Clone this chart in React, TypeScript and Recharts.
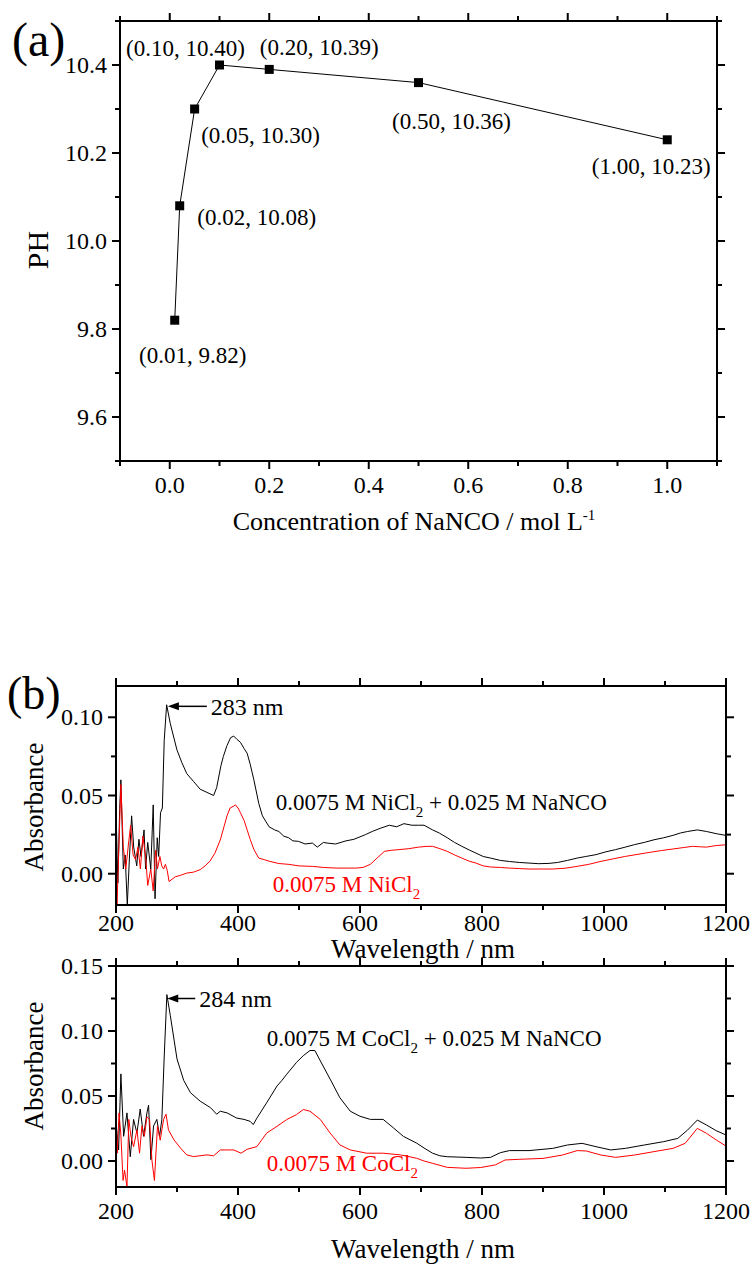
import { LineChart, Line, XAxis, YAxis, LabelList, ReferenceDot } from "recharts"

const FONT = '"Liberation Serif", "Times New Roman", serif'

// (a) pH vs NaNCO concentration
const concentration = [0.01, 0.02, 0.05, 0.1, 0.2, 0.5, 1.0]
const phValues = [9.82, 10.08, 10.3, 10.4, 10.39, 10.36, 10.23]

const concMajor = [0, 0.2, 0.4, 0.6, 0.8, 1.0]
const concMinor = [-0.1, 0.1, 0.3, 0.5, 0.7, 0.9, 1.1]
const phMajor = [9.6, 9.8, 10.0, 10.2, 10.4]
const phMinor = [9.5, 9.7, 9.9, 10.1, 10.3, 10.5]

// (b) wavelength axis
const wlMajor = [200, 400, 600, 800, 1000, 1200]
const wlMinor = [300, 500, 700, 900, 1100]
const absMajorNi = [0, 0.05, 0.1]
const absMinorNi = [0.025, 0.075]
const absMajorCo = [0, 0.05, 0.1, 0.15]
const absMinorCo = [0.025, 0.075, 0.125]

// [wavelength nm, absorbance]
const niMix: [number, number][] = [
  [200, 0.041], [203, -0.006], [206, 0.041], [208, 0.06], [212, 0.003], [215, 0.012], [218.5, -0.02],
  [222, 0.01], [225.6, 0.037], [229, 0.017], [234, 0.005], [237.6, 0.022], [241, 0.011], [246, 0.028],
  [248.5, 0.003], [252, 0.02], [257, 0.003], [261, 0.044], [264, -0.016], [267.6, 0.023], [270, 0.011],
  [273, 0.039], [276, 0.042], [279, 0.085], [283, 0.108], [289, 0.096], [300, 0.079], [308, 0.071],
  [316, 0.064], [327, 0.059], [338, 0.054], [349, 0.052], [360, 0.05], [365, 0.055], [372, 0.069],
  [376, 0.075], [382, 0.082], [388, 0.087], [393, 0.088], [398, 0.086], [404, 0.084], [410, 0.08],
  [415, 0.077], [420, 0.07], [426, 0.06], [434, 0.045], [440, 0.037], [451, 0.03], [460, 0.028],
  [467, 0.027], [475, 0.024], [483, 0.023], [490, 0.021], [499, 0.0207], [510, 0.019], [522, 0.0196],
  [530, 0.017], [540, 0.02], [546, 0.0196], [560, 0.019], [577, 0.021], [590, 0.022], [609, 0.025],
  [620, 0.027], [633, 0.029], [648, 0.031], [660, 0.03], [672, 0.032], [685, 0.031], [696, 0.031],
  [705, 0.031], [719, 0.028], [730, 0.026], [743, 0.023], [755, 0.02], [767, 0.0175], [780, 0.015],
  [790, 0.0132], [802, 0.011], [814, 0.01], [830, 0.0085], [845, 0.0078], [861, 0.0072], [877, 0.0068],
  [893, 0.0064], [910, 0.0066], [924, 0.0072], [940, 0.0085], [956, 0.01], [970, 0.011], [987, 0.0122],
  [1003, 0.014], [1019, 0.0154], [1035, 0.017], [1050, 0.0186], [1066, 0.02], [1082, 0.0217],
  [1098, 0.023], [1113, 0.0245], [1125, 0.026], [1137, 0.027], [1153, 0.028], [1168, 0.027],
  [1184, 0.0256], [1200, 0.0245],
]

const niOnly: [number, number][] = [
  [200, 0.024], [201.6, -0.02], [205, 0.02], [208, 0.057], [212, 0.017], [216, 0.003], [221, 0.021],
  [224, 0.031], [228, 0.012], [232, 0.009], [236, 0.017], [240, 0.003], [244, 0.024], [248.5, 0.011],
  [252, -0.0075], [257, 0.003], [261, -0.011], [265, 0.015], [268, 0.003], [272, 0.011], [275, 0.005],
  [278, 0.003], [281, 0.006], [284, 0.002], [287, -0.005], [297, -0.002], [306, -0.001], [316, 0.0004],
  [327, 0.001], [338, 0.0026], [346, 0.005], [354, 0.008], [362, 0.013], [371, 0.0216], [377, 0.03],
  [382, 0.037], [387, 0.042], [392, 0.043], [396, 0.044], [400, 0.042], [404, 0.039], [410, 0.034],
  [415, 0.028], [420, 0.022], [426, 0.0155], [434, 0.01], [443, 0.009], [451, 0.008], [467, 0.0065],
  [483, 0.006], [500, 0.005], [522, 0.0047], [540, 0.004], [562, 0.0036], [580, 0.0036], [593, 0.0036],
  [605, 0.004], [617, 0.006], [628, 0.01], [640, 0.0143], [652, 0.015], [664, 0.0154], [680, 0.016],
  [696, 0.017], [710, 0.0175], [719, 0.0175], [731, 0.016], [743, 0.0143], [755, 0.012], [767, 0.01],
  [779, 0.008], [790, 0.0068], [802, 0.005], [814, 0.0043], [830, 0.004], [845, 0.0036], [861, 0.0033],
  [877, 0.003], [900, 0.003], [916, 0.003], [936, 0.0035], [956, 0.0047], [975, 0.006], [995, 0.0079],
  [1015, 0.0095], [1034, 0.011], [1054, 0.0123], [1074, 0.0136], [1094, 0.0148], [1113, 0.0158],
  [1130, 0.0167], [1145, 0.0175], [1158, 0.0172], [1168, 0.017], [1184, 0.018], [1200, 0.0185],
]

const coMix: [number, number][] = [
  [200, 0.029], [204.3, 0.0085], [208, 0.067], [212.5, 0.019], [218, 0.037], [223.4, 0.0033],
  [228.8, 0.032], [234.3, 0.0215], [239.7, 0.04], [245.2, 0.019], [250.7, 0.037], [253.4, 0.043],
  [257.2, 0.001], [261.6, 0.027], [267, 0.032], [271.4, 0.019], [275.2, 0.032], [279, 0.08],
  [283.4, 0.128], [289, 0.112], [300, 0.0785], [311, 0.062], [322, 0.0526], [338, 0.046], [355, 0.041],
  [365, 0.036], [371, 0.0383], [382, 0.037], [398, 0.033], [410, 0.032], [420, 0.0305], [425, 0.028],
  [431, 0.033], [447, 0.0448], [464, 0.0577], [472, 0.062], [480, 0.0668], [496, 0.0759], [507, 0.081],
  [518, 0.085], [526, 0.085], [535, 0.077], [551, 0.063], [567, 0.0487], [584, 0.0383], [600, 0.0344],
  [617, 0.032], [638, 0.032], [655, 0.0254], [671, 0.019], [693, 0.0137], [705, 0.01], [719, 0.006],
  [731, 0.004], [743, 0.0033], [774, 0.0028], [798, 0.0023], [814, 0.0028], [830, 0.0064], [845, 0.008],
  [877, 0.008], [916, 0.0097], [940, 0.0123], [964, 0.0136], [987, 0.011], [1011, 0.0085],
  [1035, 0.0097], [1066, 0.0123], [1098, 0.0149], [1121, 0.0174], [1137, 0.0238], [1153, 0.0315],
  [1168, 0.0277], [1184, 0.0233], [1200, 0.02],
]

const coOnly: [number, number][] = [
  [200, 0.027], [202, 0.006], [205, 0.037], [208, 0.02], [211.6, -0.015], [214, -0.007], [218, -0.02],
  [221, 0.032], [224.5, 0.019], [228.8, 0.011], [234.3, 0.024], [238.6, 0.006], [242.5, 0.027],
  [246.5, 0.019], [250.7, 0.034], [255, 0.032], [258.8, 0.001], [263, -0.015], [268, 0.027],
  [272.5, 0.016], [278, 0.032], [282, 0.036], [286, 0.024], [295, 0.0163], [306, 0.0098], [316, 0.0047],
  [327, 0.0034], [349, 0.0047], [360, 0.004], [371, 0.0085], [393, 0.0085], [405, 0.006], [415, 0.009],
  [431, 0.0111], [447, 0.0215], [464, 0.0267], [480, 0.0319], [496, 0.0357], [507, 0.0396],
  [518, 0.0383], [535, 0.0319], [551, 0.0215], [567, 0.0124], [584, 0.0085], [611, 0.006], [638, 0.006],
  [666, 0.0047], [693, 0.0021], [705, 0], [719, -0.0018], [743, -0.0049], [774, -0.0056], [798, -0.005],
  [822, -0.003], [838, 0.0008], [861, 0.0013], [900, 0.002], [932, 0.0046], [956, 0.008], [971, 0.0077],
  [995, 0.0046], [1019, 0.0028], [1050, 0.0046], [1082, 0.0072], [1113, 0.0097], [1133, 0.0136],
  [1153, 0.0251], [1168, 0.0213], [1184, 0.0162], [1200, 0.0115],
]

const phData = concentration.map((c, i) => ({ conc: c, ph: phValues[i] }))
const toRows = (pts: [number, number][]) => pts.map(([wl, a]) => ({ wl, a }))

// label placement around each pH point (dx, dy from the marker)
const pointLabelOffsets = [
  [18, 35], [77, 12], [66, 26], [-34, -17], [50, -22], [33, 39], [-16, 27],
]

const axisLineStyle = { stroke: "#000", strokeWidth: 2 }
const sortTicks = (a: number[], b: number[]) => [...a, ...b].sort((p, q) => p - q)
const isMajor = (list: number[], v: number) => list.some((m) => Math.abs(m - v) < 1e-6)

type Side = "bottom" | "top" | "left" | "right"

function makeTick(side: Side, major: number[], fmt: ((v: number) => string) | null, gap = 0) {
  return (props: any) => {
    const { x, y, payload } = props
    const v = payload.value
    const big = isMajor(major, v)
    const len = big ? 8 : 5
    let x2 = x
    let y2 = y
    if (side === "bottom") y2 = y + len
    if (side === "top") y2 = y - len
    if (side === "left") x2 = x - len
    if (side === "right") x2 = x + len
    return (
      <g>
        <line x1={x} y1={y} x2={x2} y2={y2} stroke="#000" strokeWidth={2} />
        {big && fmt && side === "bottom" && (
          <text x={x} y={y + gap} textAnchor="middle" fontSize={24} fontFamily={FONT} fill="#000">
            {fmt(v)}
          </text>
        )}
        {big && fmt && side === "left" && (
          <text x={x - gap} y={y + 8} textAnchor="end" fontSize={24} fontFamily={FONT} fill="#000">
            {fmt(v)}
          </text>
        )}
      </g>
    )
  }
}

const renderPointLabel = (props: any) => {
  const { index } = props
  const x = props.x ?? props.viewBox?.x
  const y = props.y ?? props.viewBox?.y
  const [dx, dy] = pointLabelOffsets[index]
  return (
    <text x={x + dx} y={y + dy} textAnchor="middle" dominantBaseline="central" fontSize={23} fontFamily={FONT} fill="#000">
      {`(${concentration[index].toFixed(2)}, ${phValues[index].toFixed(2)})`}
    </text>
  )
}

const renderSquare = (p: any) => (
  <rect key={`sq-${p.index}`} x={p.cx - 4.5} y={p.cy - 4.5} width={9} height={9} fill="#000" />
)

const dotCenter = (props: any) => {
  const vb = props.viewBox || {}
  return [vb.x + (vb.width || 0) / 2, vb.y + (vb.height || 0) / 2]
}

const peakNote = (text: string, len: number) => (props: any) => {
  const [cx, cy] = dotCenter(props)
  return (
    <g>
      <line x1={cx + 8} y1={cy} x2={cx + len} y2={cy} stroke="#000" strokeWidth={1.5} />
      <polygon points={`${cx},${cy} ${cx + 11},${cy - 4} ${cx + 11},${cy + 4}`} fill="#000" />
      <text x={cx + len + 4} y={cy + 8.5} fontSize={24} fontFamily={FONT} fill="#000">
        {text}
      </text>
    </g>
  )
}

const seriesNote = (head: string, tail: string, color: string) => (props: any) => {
  const [x, y] = dotCenter(props)
  return (
    <text x={x} y={y} fontSize={23} fontFamily={FONT} fill={color}>
      {head}
      <tspan fontSize={15} dy={7}>2</tspan>
      {tail && <tspan dy={-7}>{"\u00a0" + tail}</tspan>}
    </text>
  )
}

const yTitle = (text: string, cx: number, cy: number, size: number, letter?: string, lx = 0, ly = 0, lsize = 46) => () => (
  <g>
    <text transform={`translate(${cx},${cy}) rotate(-90)`} textAnchor="middle" dominantBaseline="central" fontSize={size} fontFamily={FONT} fill="#000">
      {text}
    </text>
    {letter && (
      <text x={lx} y={ly} fontSize={lsize} fontFamily={FONT} fill="#000">
        {letter}
      </text>
    )}
  </g>
)

const wlTitle = (baseline: number) => () => (
  <text x={423} y={baseline} textAnchor="middle" fontSize={27} fontFamily={FONT} fill="#000">
    Wavelength / nm
  </text>
)

const concTitle = () => (
  <text x={414} y={530} textAnchor="middle" fontSize={26} fontFamily={FONT} fill="#000">
    Concentration of NaNCO / mol L<tspan dy={-10} fontSize={15}>-1</tspan>
  </text>
)

const noMargin = { top: 0, right: 0, bottom: 0, left: 0 }

function SpectrumChart(props: {
  height: number
  topH: number
  bottomH: number
  yDomain: [number, number]
  yMajor: number[]
  yMinor: number[]
  tickGap: number
  black: [number, number][]
  red: [number, number][]
  children?: any
  xLabel: any
  yLabel: any
}) {
  const wlTicks = sortTicks(wlMajor, wlMinor)
  const yTicks = sortTicks(props.yMajor, props.yMinor)
  return (
    <LineChart width={754} height={props.height} margin={noMargin}>
      <XAxis type="number" dataKey="wl" domain={[200, 1200]} ticks={wlTicks} interval={0} allowDataOverflow
        height={props.bottomH} tickSize={0} tickMargin={0} axisLine={axisLineStyle}
        tick={makeTick("bottom", wlMajor, (v) => String(v), props.tickGap)} label={props.xLabel} />
      <XAxis xAxisId="top" orientation="top" type="number" dataKey="wl" domain={[200, 1200]} ticks={wlTicks} interval={0}
        allowDataOverflow height={props.topH} tickSize={0} tickMargin={0} axisLine={axisLineStyle}
        tick={makeTick("top", wlMajor, null)} />
      <YAxis type="number" domain={props.yDomain} ticks={yTicks} interval={0} allowDataOverflow width={116}
        tickSize={0} tickMargin={0} axisLine={axisLineStyle}
        tick={makeTick("left", props.yMajor, (v) => v.toFixed(2), 13)} label={props.yLabel} />
      <YAxis yAxisId="right" orientation="right" type="number" domain={props.yDomain} ticks={yTicks} interval={0}
        allowDataOverflow width={28} tickSize={0} tickMargin={0} axisLine={axisLineStyle}
        tick={makeTick("right", props.yMajor, null)} />
      <Line data={toRows(props.black)} dataKey="a" type="linear" stroke="#000" strokeWidth={1} dot={false} isAnimationActive={false} />
      <Line data={toRows(props.red)} dataKey="a" type="linear" stroke="#ff0000" strokeWidth={1} dot={false} isAnimationActive={false} />
      {props.children}
    </LineChart>
  )
}

export default function App() {
  const concTicks = sortTicks(concMajor, concMinor)
  const phTicks = sortTicks(phMajor, phMinor)
  return (
    <div style={{ position: "absolute", left: 0, top: 0, width: 754, height: 1268, background: "#fff" }}>
      <div style={{ position: "absolute", left: 0, top: 0 }}>
        <LineChart width={754} height={560} data={phData} margin={noMargin}>
          <XAxis type="number" dataKey="conc" domain={[-0.1, 1.1]} ticks={concTicks} interval={0} allowDataOverflow
            height={99} tickSize={0} tickMargin={0} axisLine={axisLineStyle}
            tick={makeTick("bottom", concMajor, (v) => v.toFixed(1), 32)} label={concTitle} />
          <XAxis xAxisId="top" orientation="top" type="number" dataKey="conc" domain={[-0.1, 1.1]} ticks={concTicks}
            interval={0} allowDataOverflow height={21} tickSize={0} tickMargin={0} axisLine={axisLineStyle}
            tick={makeTick("top", concMajor, null)} />
          <YAxis type="number" domain={[9.5, 10.5]} ticks={phTicks} interval={0} allowDataOverflow width={120}
            tickSize={0} tickMargin={0} axisLine={axisLineStyle}
            tick={makeTick("left", phMajor, (v) => v.toFixed(1), 13)}
            label={yTitle("PH", 37, 250, 30, "(a)", 12, 56, 48)} />
          <YAxis yAxisId="right" orientation="right" type="number" domain={[9.5, 10.5]} ticks={phTicks} interval={0}
            allowDataOverflow width={37} tickSize={0} tickMargin={0} axisLine={axisLineStyle}
            tick={makeTick("right", phMajor, null)} />
          <Line dataKey="ph" type="linear" stroke="#000" strokeWidth={1} dot={renderSquare} isAnimationActive={false}>
            <LabelList dataKey="ph" content={renderPointLabel} />
          </Line>
        </LineChart>
      </div>

      <div style={{ position: "absolute", left: 0, top: 655 }}>
        <SpectrumChart height={310} topH={31} bottomH={60} yDomain={[-0.02, 0.12]} yMajor={absMajorNi} yMinor={absMinorNi}
          tickGap={26} black={niMix} red={niOnly} xLabel={wlTitle(303)}
          yLabel={yTitle("Absorbance", 34, 152, 27, "(b)", 7, 54, 46)}>
          <ReferenceDot x={285} y={0.107} r={0} fill="none" stroke="none" label={peakNote("283 nm", 39)} />
          <ReferenceDot x={462} y={0.041} r={0} fill="none" stroke="none"
            label={seriesNote("0.0075 M NiCl", "+ 0.025 M NaNCO", "#000")} />
          <ReferenceDot x={457} y={-0.012} r={0} fill="none" stroke="none" label={seriesNote("0.0075 M NiCl", "", "#ff0000")} />
        </SpectrumChart>
      </div>

      <div style={{ position: "absolute", left: 0, top: 950 }}>
        <SpectrumChart height={318} topH={16} bottomH={81} yDomain={[-0.02, 0.15]} yMajor={absMajorCo} yMinor={absMinorCo}
          tickGap={32} black={coMix} red={coOnly} xLabel={wlTitle(308)}
          yLabel={yTitle("Absorbance", 34, 116, 27)}>
          <ReferenceDot x={284} y={0.125} r={0} fill="none" stroke="none" label={peakNote("284 nm", 28)} />
          <ReferenceDot x={447} y={0.0885} r={0} fill="none" stroke="none"
            label={seriesNote("0.0075 M CoCl", "+ 0.025 M NaNCO", "#000")} />
          <ReferenceDot x={447} y={-0.0078} r={0} fill="none" stroke="none" label={seriesNote("0.0075 M CoCl", "", "#ff0000")} />
        </SpectrumChart>
      </div>
    </div>
  )
}
